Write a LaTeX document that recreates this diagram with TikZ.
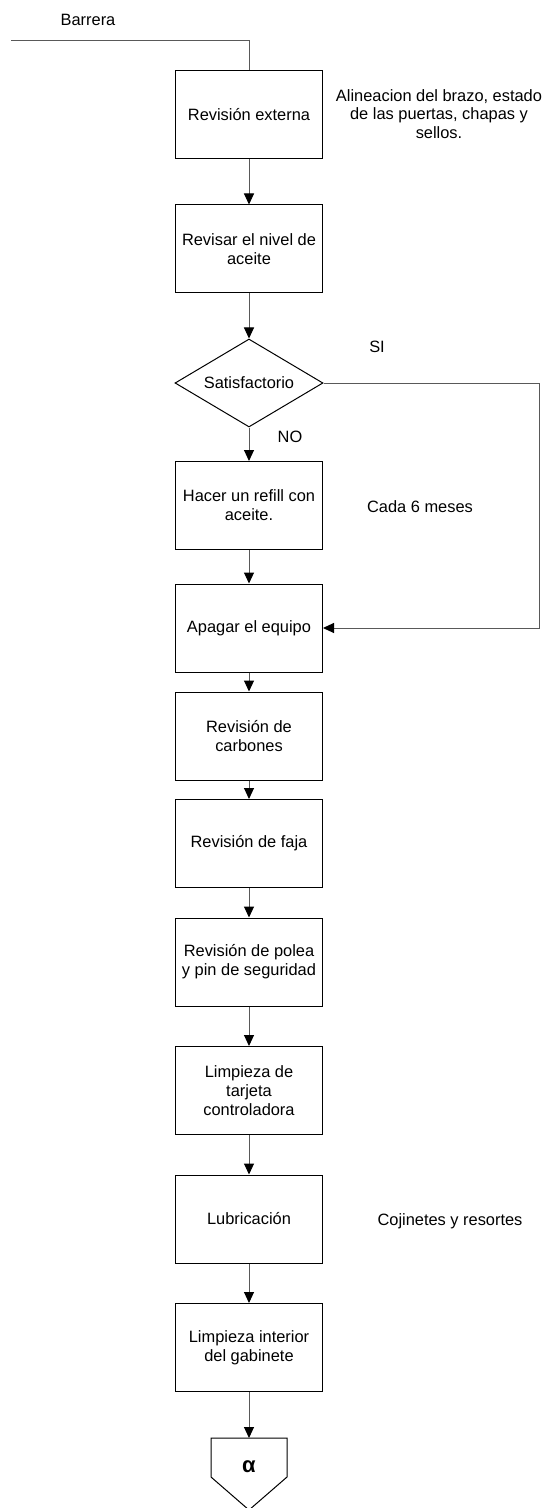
\documentclass[tikz,border=0pt]{standalone}
\usepackage{fontspec}
\setmainfont{Liberation Sans}
\usetikzlibrary{shapes.geometric,arrows.meta}
\begin{document}
\begin{tikzpicture}[x=0.5pt,y=-0.5pt,line width=0.5pt,
        every node/.style={font=\fontsize{8.2}{9.4}\selectfont,align=center},
        paso/.style={draw,minimum width=73.5pt,minimum height=44pt,inner sep=1pt},
        decision/.style={draw,diamond,aspect=1.68,minimum width=74pt,minimum height=44pt,inner sep=0pt},
        flujo/.style={draw=black!65,-{Triangle[length=5.5pt,width=5pt,color=black]}}]
    \useasboundingbox (0,0) rectangle (548,1508);
    % columna principal
    \node[paso] (externa) at (249,115) {Revisión externa};
    \node[paso] (nivel) at (249,249) {Revisar el nivel de\\aceite};
    \node[decision] (sat) at (249,383) {Satisfactorio};
    \node[paso] (refill) at (249,505.5) {Hacer un refill con\\aceite.};
    \node[paso] (apagar) at (249,628) {Apagar el equipo};
    \node[paso] (carbones) at (249,736) {Revisión de\\carbones};
    \node[paso] (faja) at (249,843.5) {Revisión de faja};
    \node[paso] (polea) at (249,962) {Revisión de polea\\y pin de seguridad};
    \node[paso] (tarjeta) at (249,1090.5) {Limpieza de\\tarjeta\\controladora};
    \node[paso] (lubri) at (249,1219) {Lubricación};
    \node[paso] (gabinete) at (249,1347.5) {Limpieza interior\\del gabinete};
    % conector de salida
    \coordinate (fin) at (249,1438);
    \draw (211,1438) -- (287,1438) -- (287,1477) -- (249,1510) -- (211,1477) -- cycle;
    \node[font=\fontsize{11}{12}\selectfont\bfseries] (alfa) at (249,1467) {α};
    % notas
    \node (barrera) at (88,20) {Barrera};
    \node (notaext) at (439,114) {Alineacion del brazo, estado\\de las puertas, chapas y\\sellos.};
    \node (si) at (377,347) {SI};
    \node (no) at (290,437) {NO};
    \node (meses) at (420,507) {Cada 6 meses};
    \node (cojinetes) at (450,1221) {Cojinetes y resortes};
    % conectores
    \coordinate (entrada) at (11,41);
    \coordinate (codo) at (539,383);
    \draw[draw=black!65] (entrada) -| (externa.north);
    \draw[flujo] (externa) -- (nivel);
    \draw[flujo] (nivel) -- (sat);
    \draw[flujo] (sat) -- (refill);
    \draw[flujo] (refill) -- (apagar);
    \draw[flujo] (sat.east) -- (codo) |- (apagar.east);
    \draw[flujo] (apagar) -- (carbones);
    \draw[flujo] (carbones) -- (faja);
    \draw[flujo] (faja) -- (polea);
    \draw[flujo] (polea) -- (tarjeta);
    \draw[flujo] (tarjeta) -- (lubri);
    \draw[flujo] (lubri) -- (gabinete);
    \draw[flujo] (gabinete) -- (fin);
\end{tikzpicture}
\end{document}
